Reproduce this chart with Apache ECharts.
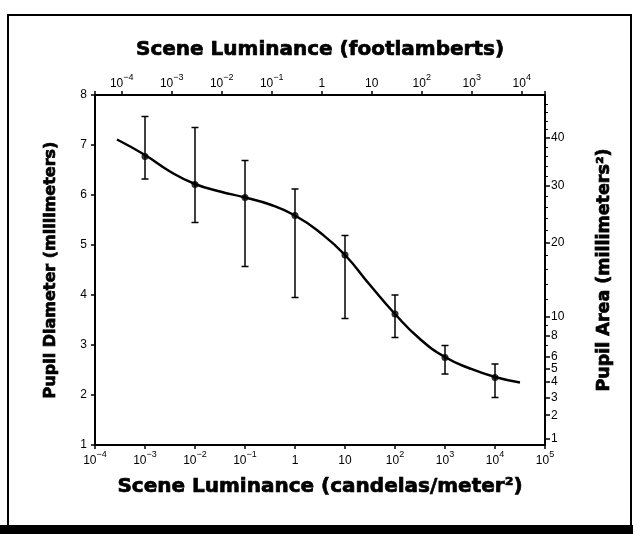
<!DOCTYPE html>
<html>
<head>
<meta charset="utf-8">
<script src="https://cdn.jsdelivr.net/npm/echarts@6/dist/echarts.min.js"></script>
<style>
  html, body { margin: 0; padding: 0; background: #fff; }
  #main { width: 633px; height: 534px; }
</style>
</head>
<body>
<div id="main"></div>
<script>
// measured points (cd/m2 vs pupil diameter mm)
var luminance = [1e-3, 1e-2, 1e-1, 1, 10, 100, 1000, 1e4];
var diameter = [6.77, 6.21, 5.95, 5.59, 4.80, 3.62, 2.75, 2.35];
var errHigh = [7.57, 7.35, 6.69, 6.12, 5.19, 4.00, 2.99, 2.62];
var errLow = [6.32, 5.45, 4.57, 3.95, 3.53, 3.15, 2.42, 1.95];

// fitted curve
var curveLum = [2.75e-4, 1e-3, 3.16e-3, 1e-2, 3.16e-2, 1e-1, 3.16e-1, 1, 3.16, 10, 31.6, 100, 316, 1000, 3162, 1e4, 3.16e4];
var curveDiam = [7.11, 6.80, 6.47, 6.22, 6.07, 5.95, 5.81, 5.59, 5.25, 4.80, 4.20, 3.62, 3.12, 2.76, 2.53, 2.36, 2.25];

// right axis (pupil area, mm2)
var areaTicks = [1, 2, 3, 4, 5, 6, 8, 10, 20, 30, 40];
var areaMinorTicks = [7, 9, 12, 14, 16, 18, 22, 24, 26, 28, 32, 34, 36, 38, 42, 44, 46, 48];

var CD_PER_FL = 3.426;

function areaToDiam(a) {
  return 2 * Math.sqrt(a / Math.PI);
}
function diamToArea(d) {
  return Math.round(Math.PI * d * d / 4);
}

function powLabel(v) {
  var e = Math.log10(v);
  var r = Math.round(e);
  if (Math.abs(e - r) > 0.01) return '';
  if (r === 0) return '{b|1}';
  if (r === 1) return '{b|10}';
  return '{b|10}{s|' + (r < 0 ? '\u2212' + (-r) : r) + '}';
}

var labelRich = {
  b: { fontSize: 12, fontFamily: 'Liberation Sans', color: '#000', lineHeight: 17, verticalAlign: 'bottom' },
  s: { fontSize: 9, fontFamily: 'Liberation Sans', color: '#000', lineHeight: 10, verticalAlign: 'top' }
};

function titleStyle(size) {
  return {
    fontFamily: 'DejaVu Sans',
    fontWeight: 'bold',
    fontSize: size,
    color: '#000',
    textBorderColor: '#000',
    textBorderWidth: 0.7
  };
}

var points = luminance.map(function (x, i) { return [x, diameter[i]]; });
var curve = curveLum.map(function (x, i) { return [x, curveDiam[i]]; });
var bars = luminance.map(function (x, i) { return [x, errLow[i], errHigh[i]]; });

var chart = echarts.init(document.getElementById('main'));

var option = {
  backgroundColor: '#fff',
  animation: false,
  graphic: [
    {
      type: 'rect',
      shape: { x: 8, y: 15, width: 623, height: 511 },
      style: { fill: 'none', stroke: '#000', lineWidth: 2 },
      silent: true
    },
    {
      type: 'rect',
      shape: { x: 0, y: 525, width: 633, height: 9 },
      style: { fill: '#000' },
      silent: true
    }
  ],
  grid: { left: 95, right: 88, top: 95, bottom: 89 },
  xAxis: [
    {
      type: 'log',
      logBase: 10,
      min: 1e-4,
      max: 1e5,
      position: 'bottom',
      name: 'Scene Luminance (candelas/meter\u00b2)',
      nameLocation: 'middle',
      nameGap: 32,
      nameTextStyle: titleStyle(20),
      axisLine: { lineStyle: { color: '#000', width: 2 } },
      axisTick: { inside: false, length: 4, lineStyle: { color: '#000', width: 1.5 } },
      minorTick: { show: false },
      splitLine: { show: false },
      axisLabel: { margin: 5, formatter: powLabel, rich: labelRich }
    },
    {
      type: 'log',
      logBase: 10,
      min: 1e-4 / CD_PER_FL,
      max: 1e5 / CD_PER_FL,
      position: 'top',
      name: 'Scene Luminance (footlamberts)',
      nameLocation: 'middle',
      nameGap: 35,
      nameTextStyle: titleStyle(20),
      axisLine: { lineStyle: { color: '#000', width: 2 } },
      axisTick: { inside: false, length: 4, lineStyle: { color: '#000', width: 1.5 } },
      splitLine: { show: false },
      axisLabel: { margin: 5, formatter: powLabel, rich: labelRich }
    }
  ],
  yAxis: [
    {
      type: 'value',
      min: 1,
      max: 8,
      interval: 1,
      position: 'left',
      name: 'Pupil Diameter (millimeters)',
      nameLocation: 'middle',
      nameGap: 36,
      nameRotate: 90,
      nameTextStyle: titleStyle(16),
      axisLine: { show: true, lineStyle: { color: '#000', width: 2 } },
      axisTick: { show: true, inside: false, length: 4, lineStyle: { color: '#000', width: 1.5 } },
      splitLine: { show: false },
      axisLabel: { margin: 8, color: '#000', fontSize: 12, fontFamily: 'Liberation Sans' }
    },
    {
      type: 'value',
      min: 1,
      max: 8,
      position: 'right',
      name: 'Pupil Area (millimeters\u00b2)',
      nameLocation: 'middle',
      nameGap: 50,
      nameRotate: 90,
      nameTextStyle: titleStyle(17.5),
      axisLine: { show: true, lineStyle: { color: '#000', width: 2 } },
      axisTick: {
        show: true, inside: false, length: 5,
        customValues: areaTicks.map(areaToDiam),
        lineStyle: { color: '#000', width: 1.5 }
      },
      splitLine: { show: false },
      axisLabel: {
        margin: 6, color: '#000', fontSize: 12, fontFamily: 'Liberation Sans',
        customValues: areaTicks.map(areaToDiam),
        formatter: function (v) { return String(diamToArea(v)); }
      }
    },
    {
      type: 'value',
      min: 1,
      max: 8,
      position: 'right',
      axisLine: { show: false },
      axisTick: {
        show: true, inside: false, length: 3,
        customValues: areaMinorTicks.map(areaToDiam),
        lineStyle: { color: '#000', width: 1 }
      },
      splitLine: { show: false },
      axisLabel: { show: false }
    }
  ],
  series: [
    {
      type: 'line',
      data: curve,
      smooth: 0.5,
      showSymbol: false,
      lineStyle: { color: '#000', width: 2.5 },
      z: 2
    },
    {
      type: 'custom',
      data: bars,
      renderItem: function (params, api) {
        var x = api.value(0);
        var lo = api.coord([x, api.value(1)]);
        var hi = api.coord([x, api.value(2)]);
        var cap = 3.5;
        var st = { stroke: '#000', lineWidth: 1.5 };
        return {
          type: 'group',
          children: [
            { type: 'line', shape: { x1: lo[0], y1: lo[1], x2: hi[0], y2: hi[1] }, style: st },
            { type: 'line', shape: { x1: lo[0] - cap, y1: lo[1], x2: lo[0] + cap, y2: lo[1] }, style: st },
            { type: 'line', shape: { x1: hi[0] - cap, y1: hi[1], x2: hi[0] + cap, y2: hi[1] }, style: st }
          ]
        };
      },
      z: 3
    },
    {
      type: 'scatter',
      data: points,
      symbol: 'circle',
      symbolSize: 7,
      itemStyle: { color: '#000' },
      z: 4
    }
  ]
};

chart.setOption(option);
</script>
</body>
</html>
